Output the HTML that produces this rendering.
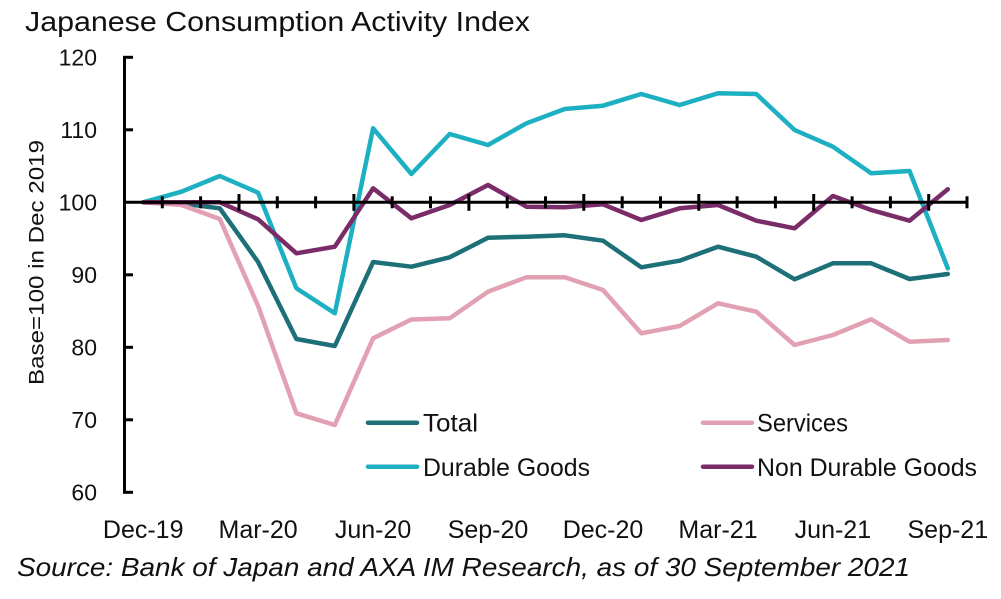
<!DOCTYPE html>
<html>
<head>
<meta charset="utf-8">
<style>
  html, body { margin: 0; padding: 0; background: #ffffff; }
  body { width: 1001px; height: 599px; overflow: hidden; }
  svg { display: block; }
  text { font-family: "Liberation Sans", sans-serif; fill: #111; }
</style>
</head>
<body>
<svg width="1001" height="599" viewBox="0 0 1001 599" xmlns="http://www.w3.org/2000/svg">
  <rect x="0" y="0" width="1001" height="599" fill="#ffffff"/>

  <!-- Title -->
  <text x="25" y="31" font-size="28" textLength="505" lengthAdjust="spacingAndGlyphs">Japanese Consumption Activity Index</text>

  <!-- Y axis title -->
  <text transform="translate(43.5,262.5) rotate(-90)" text-anchor="middle" font-size="21" textLength="245" lengthAdjust="spacingAndGlyphs">Base=100 in Dec 2019</text>

  <!-- Y tick labels -->
  <g font-size="23" text-anchor="end">
    <text x="97" y="65.5">120</text>
    <text x="97" y="138">110</text>
    <text x="97" y="210.5">100</text>
    <text x="97" y="283">90</text>
    <text x="97" y="355.5">80</text>
    <text x="97" y="428">70</text>
    <text x="97" y="500.5">60</text>
  </g>

  <!-- X labels -->
  <g font-size="25" text-anchor="middle">
    <text x="143.2" y="538">Dec-19</text>
    <text x="258.1" y="538">Mar-20</text>
    <text x="373.1" y="538">Jun-20</text>
    <text x="488.0" y="538">Sep-20</text>
    <text x="603.0" y="538">Dec-20</text>
    <text x="718.0" y="538">Mar-21</text>
    <text x="832.9" y="538">Jun-21</text>
    <text x="947.8" y="538">Sep-21</text>
  </g>

  <!-- Source -->
  <text x="17" y="576" font-size="26" font-style="italic" textLength="893" lengthAdjust="spacingAndGlyphs">Source: Bank of Japan and AXA IM Research, as of 30 September 2021</text>

  <!-- Series -->
  <g fill="none" stroke-width="4.5" stroke-linejoin="round" stroke-linecap="round">
    <!-- Total -->
    <polyline stroke="#1d6f78" points="143.2,202.3 181.5,203.5 219.8,208.3 258.1,262 296.4,339 334.8,346 373.1,262 411.4,266.7 449.7,257.3 488.0,237.7 526.4,236.7 564.7,235.3 603.0,240.7 641.3,267.3 679.6,260.7 718.0,246.7 756.3,256.7 794.6,279.3 832.9,263.3 871.2,263.3 909.5,279 947.8,274"/>
    <!-- Services -->
    <polyline stroke="#e2a0b3" points="143.2,202.3 181.5,205 219.8,219 258.1,306 296.4,413.3 334.8,425 373.1,338.3 411.4,319.5 449.7,318.3 488.0,291.7 526.4,277.3 564.7,277.3 603.0,290 641.3,333.3 679.6,326 718.0,303.3 756.3,311.7 794.6,345 832.9,335 871.2,319.3 909.5,341.7 947.8,340"/>
    <!-- Durable Goods -->
    <polyline stroke="#1dafc2" points="143.2,202.3 181.5,191.7 219.8,176 258.1,192.7 296.4,288.3 334.8,313.3 373.1,128.3 411.4,174 449.7,134 488.0,145 526.4,123.3 564.7,109 603.0,105.7 641.3,94 679.6,105 718.0,93.3 756.3,94 794.6,130 832.9,146.7 871.2,173.3 909.5,171 947.8,268.3"/>
    <!-- Non Durable Goods -->
    <polyline stroke="#7a2c69" points="143.2,202.3 181.5,202.3 219.8,202.3 258.1,219.3 296.4,253.3 334.8,246.7 373.1,188.3 411.4,218.3 449.7,205 488.0,185 526.4,206.7 564.7,207.3 603.0,204.3 641.3,220 679.6,208.3 718.0,205 756.3,220.7 794.6,228.3 832.9,196 871.2,210 909.5,220.7 947.8,189.3"/>
  </g>

  <!-- Axes -->
  <g stroke="#000" stroke-width="3" fill="none">
    <!-- Y axis -->
    <line x1="124.5" y1="56" x2="124.5" y2="493.5"/>
    <line x1="123" y1="57.3" x2="133" y2="57.3"/>
    <line x1="123" y1="129.8" x2="133" y2="129.8"/>
    <line x1="123" y1="274.8" x2="133" y2="274.8"/>
    <line x1="123" y1="347.3" x2="133" y2="347.3"/>
    <line x1="123" y1="419.8" x2="133" y2="419.8"/>
    <line x1="123" y1="492.3" x2="133" y2="492.3"/>
    <!-- X axis at 100 -->
    <line x1="123" y1="202.3" x2="968" y2="202.3"/>
  </g>
  <g stroke="#000" stroke-width="3">
    <!-- minor ticks -->
    <line x1="162.3" y1="196.3" x2="162.3" y2="208.3"/>
    <line x1="200.6" y1="196.3" x2="200.6" y2="208.3"/>
    <line x1="277.3" y1="196.3" x2="277.3" y2="208.3"/>
    <line x1="315.6" y1="196.3" x2="315.6" y2="208.3"/>
    <line x1="392.2" y1="196.3" x2="392.2" y2="208.3"/>
    <line x1="430.5" y1="196.3" x2="430.5" y2="208.3"/>
    <line x1="507.2" y1="196.3" x2="507.2" y2="208.3"/>
    <line x1="545.5" y1="196.3" x2="545.5" y2="208.3"/>
    <line x1="622.2" y1="196.3" x2="622.2" y2="208.3"/>
    <line x1="660.5" y1="196.3" x2="660.5" y2="208.3"/>
    <line x1="737.1" y1="196.3" x2="737.1" y2="208.3"/>
    <line x1="775.4" y1="196.3" x2="775.4" y2="208.3"/>
    <line x1="852.1" y1="196.3" x2="852.1" y2="208.3"/>
    <line x1="890.4" y1="196.3" x2="890.4" y2="208.3"/>
    <line x1="967" y1="196.3" x2="967" y2="208.3"/>
    <!-- major ticks -->
    <line x1="239.0" y1="194" x2="239.0" y2="210.8"/>
    <line x1="353.9" y1="194" x2="353.9" y2="210.8"/>
    <line x1="468.9" y1="194" x2="468.9" y2="210.8"/>
    <line x1="583.8" y1="194" x2="583.8" y2="210.8"/>
    <line x1="698.8" y1="194" x2="698.8" y2="210.8"/>
    <line x1="813.7" y1="194" x2="813.7" y2="210.8"/>
    <line x1="928.7" y1="194" x2="928.7" y2="210.8"/>
  </g>

  <!-- Legend -->
  <g stroke-width="4.5" stroke-linecap="round">
    <line x1="368" y1="422.7" x2="417" y2="422.7" stroke="#1d6f78"/>
    <line x1="368" y1="466.7" x2="417" y2="466.7" stroke="#1dafc2"/>
    <line x1="703" y1="422.7" x2="752" y2="422.7" stroke="#e2a0b3"/>
    <line x1="703" y1="466.7" x2="752" y2="466.7" stroke="#7a2c69"/>
  </g>
  <g font-size="25">
    <text x="423" y="431.5" textLength="55" lengthAdjust="spacingAndGlyphs">Total</text>
    <text x="423" y="476" textLength="167" lengthAdjust="spacingAndGlyphs">Durable Goods</text>
    <text x="757" y="431.5" textLength="91" lengthAdjust="spacingAndGlyphs">Services</text>
    <text x="757" y="476" textLength="220" lengthAdjust="spacingAndGlyphs">Non Durable Goods</text>
  </g>
</svg>
</body>
</html>
